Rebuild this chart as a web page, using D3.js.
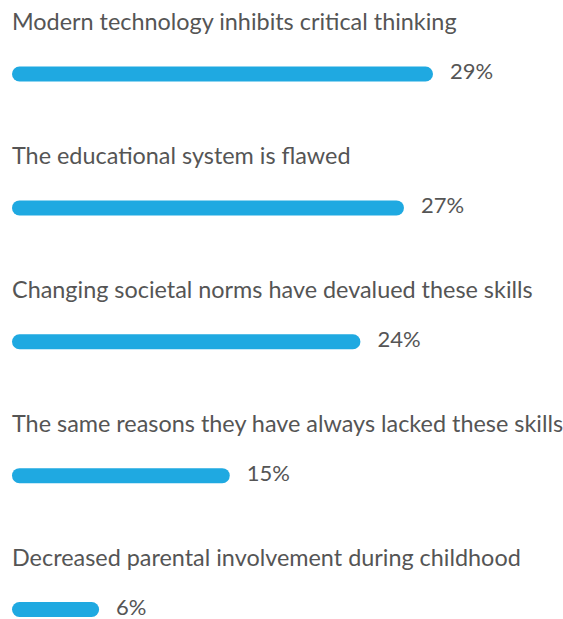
<!DOCTYPE html>
<html>
<head>
<meta charset="utf-8">
<script src="https://cdn.jsdelivr.net/npm/d3@7"></script>
<style>
  html, body { margin: 0; padding: 0; background: #fff; }
  svg { display: block; }
</style>
</head>
<body>
<svg id="chart" width="563" height="619"></svg>
<script>
const categories = [
  "Modern technology inhibits critical thinking",
  "The educational system is flawed",
  "Changing societal norms have devalued these skills",
  "The same reasons they have always lacked these skills",
  "Decreased parental involvement during childhood"
];
const values = [29, 27, 24, 15, 6];
const valueLabels = ["29%", "27%", "24%", "15%", "6%"];

const svg = d3.select("#chart");
const barH = 15;
const fontFamily = "Lato, 'Open Sans', sans-serif";
const textColor = "#555555";
const barColor = "#1fa9e1";

const x = d3.scaleLinear().domain([0, 29]).range([12, 433]);
const y = d3.scalePoint().domain(d3.range(categories.length)).range([74, 609.5]);

const rows = svg.selectAll("g.row")
  .data(categories.map((c, i) => ({ c, v: values[i], lab: valueLabels[i], i })))
  .join("g")
  .attr("class", "row");

// category caption above each bar
rows.append("text")
  .attr("x", 12)
  .attr("y", d => y(d.i) - 44)
  .attr("fill", textColor)
  .style("font-family", fontFamily)
  .style("font-size", "23.4px")
  .text(d => d.c);

// rounded bar
rows.append("rect")
  .attr("x", x(0))
  .attr("y", d => y(d.i) - barH / 2)
  .attr("width", d => x(d.v) - x(0))
  .attr("height", barH)
  .attr("rx", barH / 2)
  .attr("fill", barColor);

// percentage at the bar end
rows.append("text")
  .attr("x", d => x(d.v) + 17)
  .attr("y", d => y(d.i) + 5)
  .attr("fill", textColor)
  .style("font-family", fontFamily)
  .style("font-size", "22px")
  .text(d => d.lab);
</script>
</body>
</html>
